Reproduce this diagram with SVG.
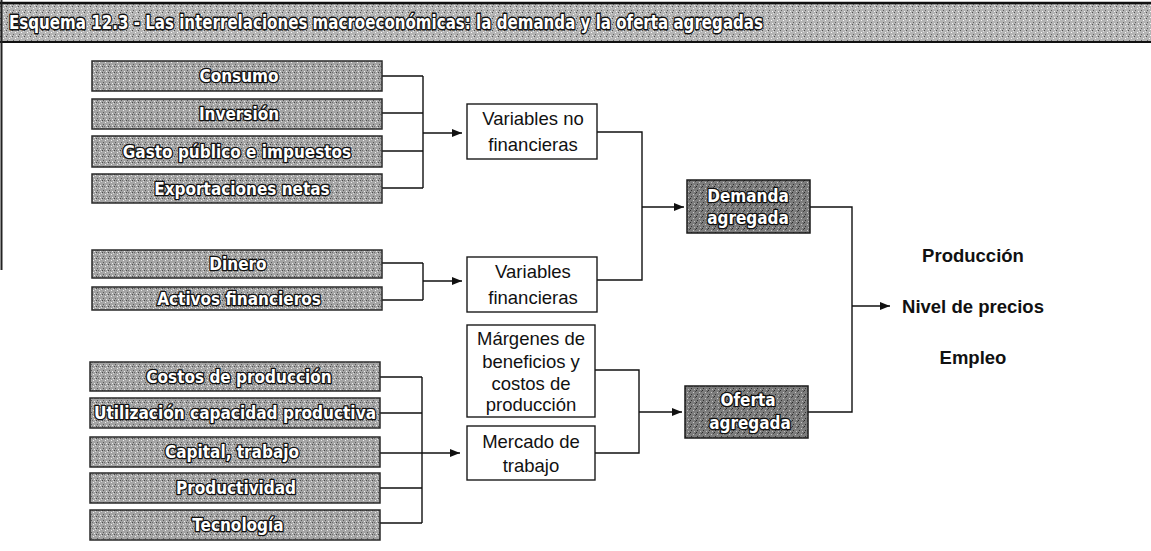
<svg xmlns="http://www.w3.org/2000/svg" width="1151" height="551" viewBox="0 0 1151 551">
<defs>
<pattern id="tex" width="6" height="6" patternUnits="userSpaceOnUse">
<rect width="6" height="6" fill="#a4a4a4"/>
<rect x="0" y="0" width="1" height="1" fill="#4a4a4a"/>
<rect x="3" y="2" width="1" height="1" fill="#f0f0f0"/>
<rect x="1" y="4" width="1" height="1" fill="#5a5a5a"/>
<rect x="4" y="5" width="1" height="1" fill="#eeeeee"/>
<rect x="5" y="1" width="1" height="1" fill="#dcdcdc"/>
<rect x="2" y="0" width="1" height="1" fill="#707070"/>
</pattern>
<pattern id="texd" width="6" height="6" patternUnits="userSpaceOnUse">
<rect width="6" height="6" fill="#7c7c7c"/>
<rect x="0" y="0" width="1" height="1" fill="#2a2a2a"/>
<rect x="3" y="2" width="1" height="1" fill="#c8c8c8"/>
<rect x="1" y="4" width="1" height="1" fill="#333"/>
<rect x="4" y="5" width="1" height="1" fill="#bbbbbb"/>
<rect x="5" y="1" width="1" height="1" fill="#444"/>
</pattern>
<pattern id="text" width="6" height="6" patternUnits="userSpaceOnUse">
<rect width="6" height="6" fill="#b4b4b4"/>
<rect x="0" y="0" width="1" height="1" fill="#505050"/>
<rect x="3" y="2" width="1" height="1" fill="#fafafa"/>
<rect x="1" y="4" width="1" height="1" fill="#606060"/>
<rect x="4" y="5" width="1" height="1" fill="#f4f4f4"/>
<rect x="5" y="1" width="1" height="1" fill="#e0e0e0"/>
</pattern>
<marker id="arr" markerUnits="userSpaceOnUse" markerWidth="10" markerHeight="8" refX="10" refY="4" orient="auto">
<path d="M0,0 L10,4 L0,8 Z" fill="#111"/>
</marker>
</defs>
<style>
.lb{fill:url(#tex);stroke:#2a2a2a;stroke-width:1.5}
.db{fill:url(#texd);stroke:#1a1a1a;stroke-width:1.5}
.wb{fill:#fff;stroke:#1a1a1a;stroke-width:1.4}
.ot{font-family:"DejaVu Sans Condensed","DejaVu Sans",sans-serif;font-weight:bold;font-size:17px;fill:#fff;stroke:#111;stroke-width:2.6;paint-order:stroke;stroke-linejoin:round;text-anchor:middle}
.mt{font-family:"Liberation Sans",Arial,sans-serif;font-size:18.5px;fill:#111;text-anchor:middle}
.rt{font-family:"Liberation Sans",Arial,sans-serif;font-size:18.5px;font-weight:bold;fill:#111;text-anchor:middle}
.cn{fill:none;stroke:#111;stroke-width:1.4}
.tt{font-family:"DejaVu Sans Condensed","DejaVu Sans",sans-serif;font-weight:bold;font-size:20px;fill:#fff;stroke:#111;stroke-width:2.8;paint-order:stroke;stroke-linejoin:round}
</style>
<rect width="1151" height="551" fill="#fff"/>
<g id="title">
<rect x="0" y="3" width="1151" height="39" fill="url(#text)"/>
<line x1="0" y1="3" x2="1151" y2="3" stroke="#111" stroke-width="2.5"/>
<line x1="0" y1="42" x2="1151" y2="42" stroke="#111" stroke-width="2"/>
<line x1="1.5" y1="0" x2="1.5" y2="270" stroke="#222" stroke-width="2"/>
<text class="tt" x="9" y="29" textLength="754" lengthAdjust="spacingAndGlyphs">Esquema 12.3 - Las interrelaciones macroeconómicas: la demanda y la oferta agregadas</text>
</g>
<g id="connectors">
<path class="cn" d="M382,76 H423 M382,113 H423 M382,151 H423 M382,188 H423 M423,76 V188"/>
<path class="cn" d="M423,133 H462" marker-end="url(#arr)"/>
<path class="cn" d="M382,263 H423 M382,300 H423 M423,263 V300"/>
<path class="cn" d="M423,281 H462" marker-end="url(#arr)"/>
<path class="cn" d="M380,377 H422 M380,413 H422 M380,488 H422 M380,523 H422 M422,377 V523"/>
<path class="cn" d="M380,453 H460" marker-end="url(#arr)"/>
<path class="cn" d="M597,132 H642 V280 H597"/>
<path class="cn" d="M642,207 H684" marker-end="url(#arr)"/>
<path class="cn" d="M595,370 H639 V453 H595"/>
<path class="cn" d="M639,412 H682" marker-end="url(#arr)"/>
<path class="cn" d="M810,207 H852 V412 H808"/>
<path class="cn" d="M852,306 H890" marker-end="url(#arr)"/>
</g>
<g id="consumo"><rect class="lb" x="92" y="61" width="290" height="30"/><text class="ot" x="239" y="82">Consumo</text></g>
<g id="inversion"><rect class="lb" x="92" y="99" width="290" height="30"/><text class="ot" x="239" y="120">Inversión</text></g>
<g id="gasto"><rect class="lb" x="92" y="136" width="290" height="31"/><text class="ot" x="237" y="158">Gasto público e impuestos</text></g>
<g id="exportaciones"><rect class="lb" x="92" y="174" width="290" height="29"/><text class="ot" x="242" y="195">Exportaciones netas</text></g>
<g id="dinero"><rect class="lb" x="92" y="250" width="290" height="28"/><text class="ot" x="238" y="270">Dinero</text></g>
<g id="activos"><rect class="lb" x="92" y="287" width="290" height="23"/><text class="ot" x="239" y="305">Activos financieros</text></g>
<g id="costos"><rect class="lb" x="90" y="362" width="290" height="29"/><text class="ot" x="239" y="383">Costos de producción</text></g>
<g id="utilizacion"><rect class="lb" x="90" y="398" width="290" height="30"/><text class="ot" x="235" y="419" textLength="282" lengthAdjust="spacingAndGlyphs">Utilización capacidad productiva</text></g>
<g id="capital"><rect class="lb" x="90" y="437" width="290" height="30"/><text class="ot" x="232" y="458">Capital, trabajo</text></g>
<g id="productividad"><rect class="lb" x="90" y="473" width="290" height="30"/><text class="ot" x="236" y="494">Productividad</text></g>
<g id="tecnologia"><rect class="lb" x="90" y="510" width="290" height="30"/><text class="ot" x="238" y="531">Tecnología</text></g>
<g id="var-no-fin"><rect class="wb" x="467" y="104" width="130" height="55"/><text class="mt" x="533" y="125">Variables no</text><text class="mt" x="533" y="151">financieras</text></g>
<g id="var-fin"><rect class="wb" x="467" y="257" width="130" height="55"/><text class="mt" x="533" y="278">Variables</text><text class="mt" x="533" y="304">financieras</text></g>
<g id="margenes"><rect class="wb" x="467" y="325" width="128" height="92"/><text class="mt" x="531" y="345">Márgenes de</text><text class="mt" x="531" y="368">beneficios y</text><text class="mt" x="531" y="390">costos de</text><text class="mt" x="531" y="411">producción</text></g>
<g id="mercado"><rect class="wb" x="467" y="426" width="128" height="54"/><text class="mt" x="531" y="448">Mercado de</text><text class="mt" x="531" y="472">trabajo</text></g>
<g id="demanda"><rect class="db" x="687" y="180" width="123" height="53"/><text class="ot" x="748" y="202">Demanda</text><text class="ot" x="748" y="224">agregada</text></g>
<g id="oferta"><rect class="db" x="685" y="386" width="123" height="52"/><text class="ot" x="748" y="406">Oferta</text><text class="ot" x="750" y="429">agregada</text></g>
<g id="resultados"><text class="rt" x="973" y="262">Producción</text><text class="rt" x="973" y="313">Nivel de precios</text><text class="rt" x="973" y="364">Empleo</text></g>
</svg>
